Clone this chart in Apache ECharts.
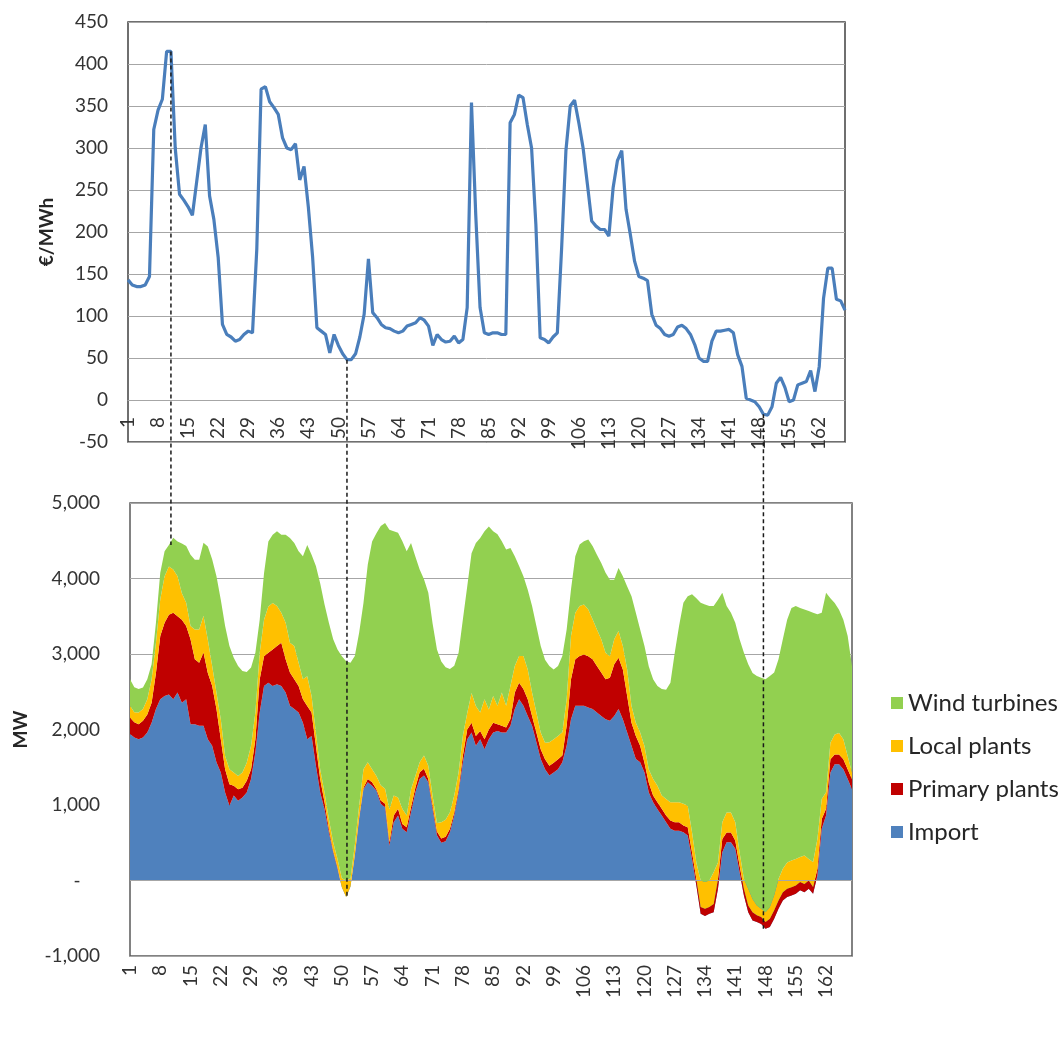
<!DOCTYPE html>
<html>
<head>
<meta charset="utf-8">
<script src="https://cdn.jsdelivr.net/npm/echarts@6/dist/echarts.min.js"></script>
<style>html,body{margin:0;padding:0;background:#fff;}#c{width:1062px;height:1041px;}</style>
</head>
<body>
<div id="c"></div>
<script>
// hours of the week (category axis)
const hours = Array.from({length: 168}, (_, i) => String(i + 1));

// price, €/MWh
const price = [143,137,135,135,137,147,322,345,358,415,
415,300,245,238,230,220,260,300,328,243,
215,170,90,78,75,70,72,78,82,80,
180,370,373,355,348,340,312,300,298,305,
262,278,230,170,86,82,78,56,78,65,
55,48,48,55,75,102,168,104,98,90,
86,85,82,80,82,88,90,92,98,95,
88,65,78,72,69,70,76,68,72,110,
354,220,110,80,78,80,80,78,78,330,
340,363,360,328,300,209,74,72,68,75,
80,181,297,350,357,330,300,257,213,207,
203,203,195,253,285,297,227,197,165,147,
145,142,102,89,85,78,76,78,87,89,
85,78,66,50,46,46,70,82,82,83,
84,80,54,40,2,0,-2,-8,-17,-18,
-8,20,27,15,-2,0,18,20,22,35,
10,40,121,157,157,120,118,107];

// MW by source
const importMW = [1940,1895,1870,1895,1960,2090,2270,2400,2445,2465,
2400,2490,2355,2400,2070,2070,2050,2050,1870,1785,
1565,1430,1165,990,1125,1055,1100,1165,1345,1695,
2225,2575,2620,2575,2600,2575,2490,2315,2270,2225,
2090,1870,1915,1520,1165,945,640,375,155,-90,
-220,-80,330,815,1210,1300,1255,1190,1015,970,
460,770,860,685,640,905,1165,1345,1390,1300,
945,600,500,520,640,860,1165,1565,1870,1960,
1785,1870,1740,1870,1960,1980,1960,1960,2050,2270,
2400,2315,2180,2050,1830,1610,1475,1390,1430,1475,
1565,1785,2135,2315,2315,2315,2290,2270,2225,2180,
2135,2115,2180,2270,2135,1960,1785,1610,1565,1430,
1165,1035,945,860,770,685,660,660,640,595,
285,-65,-440,-470,-440,-420,-110,375,505,505,
420,110,-200,-420,-530,-550,-575,-640,-615,-505,
-375,-265,-220,-200,-175,-130,-155,-110,-175,65,
685,860,1430,1540,1540,1475,1345,1210];

const primaryMW = [220,200,200,220,240,265,480,840,970,1055,
1145,1010,1100,970,1125,860,835,970,880,795,
705,440,310,285,130,155,130,155,130,175,
440,395,395,485,505,575,440,440,395,350,
310,440,310,265,175,90,45,20,20,0,
0,0,10,20,20,45,45,20,45,45,
45,90,90,65,65,65,65,90,90,45,
45,50,55,60,45,45,45,90,130,130,
130,110,130,130,130,90,90,65,90,220,
220,220,220,130,130,130,130,130,130,130,
90,265,530,615,660,680,680,660,615,575,
530,570,685,680,660,485,305,305,220,130,
130,90,90,90,90,110,110,110,90,110,
90,85,90,95,90,110,130,175,130,130,
110,90,90,90,110,90,90,90,110,110,
110,110,110,110,110,110,110,110,90,90,
130,90,175,130,130,130,130,130];

const localMW = [155,135,155,155,200,310,400,485,615,640,
575,530,350,310,175,395,440,485,440,265,
220,265,175,200,175,175,200,240,310,355,
350,485,615,615,530,395,485,395,440,310,
265,395,220,175,130,130,130,110,110,120,
220,110,130,155,245,220,175,175,200,200,
440,265,150,200,155,240,155,130,175,175,
130,110,215,225,220,220,220,265,220,395,
395,245,530,265,355,245,440,290,440,350,
355,440,395,310,265,220,220,310,310,310,
310,350,575,615,660,660,620,530,485,440,
350,285,330,355,310,350,220,175,175,220,
175,220,220,175,220,240,265,265,285,285,
265,220,350,355,350,420,220,220,265,265,
240,175,130,220,175,130,110,130,155,200,
285,310,350,355,350,330,375,285,330,395,
265,220,220,265,285,265,175,90];

const windMW = [350,330,310,285,265,200,265,350,330,285,
420,460,660,750,945,925,925,970,1235,1410,
1540,1585,1720,1630,1520,1455,1345,1200,1035,790,
440,615,860,905,990,1035,1165,1385,1365,1475,
1630,1740,1870,2205,2465,2490,2600,2690,2775,2940,
2905,2855,2503,2290,2200,2620,3015,3215,3435,3520,
3700,3500,3505,3545,3500,3260,2905,2555,2335,2290,
2280,2300,2130,2020,1895,1720,1585,1540,1675,1850,
2160,2310,2225,2425,2180,2270,2005,2070,1825,1455,
1190,1055,1055,1145,1145,1145,1100,1010,925,925,
1010,925,615,750,815,840,925,970,990,1010,
1060,1015,790,835,925,1100,1455,1455,1365,1325,
1365,1320,1320,1410,1445,1585,1980,2335,2665,2775,
3150,3500,3680,3675,3635,3525,3480,3040,2735,2645,
2645,2820,2995,2975,2995,3040,3060,3085,3060,2950,
2910,3040,3215,3345,3350,3300,3260,3285,3300,2975,
2465,2640,1915,1740,1630,1585,1590,1410];

const seriesNames = ['Import', 'Primary plants', 'Local plants', 'Wind turbines'];
const legendOrder = ['Wind turbines', 'Local plants', 'Primary plants', 'Import'];
const colors = ['#4F81BD', '#C00000', '#FFC000', '#92D050'];

// dashed guide lines: hour on the price chart and where they end in the MW chart
const guides = [{hour: 11, to: 'total'}, {hour: 52, to: 'low'}, {hour: 149, to: 'low'}];

const FONT = 'Lato, "Liberation Sans", sans-serif';
const chart = echarts.init(document.getElementById('c'), null, {renderer: 'canvas'});

const mwData = [importMW, primaryMW, localMW, windMW];
const areaSeries = mwData.map((d, i) => ({
  name: seriesNames[i], type: 'line', xAxisIndex: 1, yAxisIndex: 1,
  stack: 'mw', stackStrategy: 'all', data: d, symbol: 'none',
  lineStyle: {width: 0, opacity: 0}, itemStyle: {color: colors[i]},
  areaStyle: {color: colors[i], opacity: 1}, z: 2 + i
}));
areaSeries[3].markLine = {
  silent: true, symbol: 'none', label: {show: false},
  lineStyle: {color: '#a6a6a6', type: 'solid', width: 1},
  data: [{yAxis: 0}]
};

const labelStyle = {fontSize: 19, color: '#333', fontFamily: FONT};

chart.setOption({
  animation: false,
  textStyle: {fontFamily: FONT},
  grid: [
    {left: 128, top: 22, width: 717, height: 420, show: true, borderColor: '#404040', borderWidth: 1.5, backgroundColor: 'transparent'},
    {left: 130, top: 503, width: 722, height: 453, show: true, borderColor: '#595959', borderWidth: 1.5, backgroundColor: 'transparent'}
  ],
  legend: {
    data: legendOrder, orient: 'vertical', left: 886, top: 686,
    itemWidth: 12, itemHeight: 12, itemGap: 19, icon: 'rect',
    textStyle: {fontSize: 24, color: '#262626', fontFamily: FONT}
  },
  xAxis: [
    {type: 'category', gridIndex: 0, data: hours, boundaryGap: false,
     axisLine: {show: true, onZero: false, lineStyle: {color: '#a6a6a6', width: 1}},
     axisTick: {show: false},
     axisLabel: Object.assign({interval: 6, rotate: 90, margin: 17}, labelStyle),
     splitLine: {show: false}},
    {type: 'category', gridIndex: 1, data: hours, boundaryGap: false,
     axisLine: {show: false, onZero: false},
     axisTick: {show: false},
     axisLabel: Object.assign({interval: 6, rotate: 90, margin: 9}, labelStyle),
     splitLine: {show: false}}
  ],
  yAxis: [
    {type: 'value', gridIndex: 0, min: -50, max: 450, interval: 50,
     name: '€/MWh', nameLocation: 'middle', nameGap: 72, nameRotate: 90,
     nameTextStyle: {fontSize: 19, fontWeight: 'bold', color: '#262626', fontFamily: FONT},
     axisLine: {show: false}, axisTick: {show: false},
     axisLabel: Object.assign({margin: 20}, labelStyle),
     splitLine: {lineStyle: {color: '#a6a6a6', width: 1}}},
    {type: 'value', gridIndex: 1, min: -1000, max: 5000, interval: 1000,
     name: 'MW', nameLocation: 'middle', nameGap: 100, nameRotate: 90,
     nameTextStyle: {fontSize: 19, fontWeight: 'bold', color: '#262626', fontFamily: FONT},
     axisLine: {show: false}, axisTick: {show: false},
     axisLabel: Object.assign({margin: 30,
       formatter: v => v === 0 ? '-    ' : v.toLocaleString('en-US')}, labelStyle),
     splitLine: {lineStyle: {color: '#a6a6a6', width: 1}}}
  ],
  series: [
    {name: 'Price', type: 'line', xAxisIndex: 0, yAxisIndex: 0, data: price,
     symbol: 'none', lineStyle: {color: '#4A7EBB', width: 3.2}, itemStyle: {color: '#4A7EBB'}, z: 5}
  ].concat(areaSeries)
});

// move the price chart's category axis up to the zero line (as in the original)
const gridRect = chart.getModel().getComponent('grid', 0).coordinateSystem.getRect();
const yZero = chart.convertToPixel({xAxisIndex: 0, yAxisIndex: 0}, [0, 0])[1];
chart.setOption({xAxis: [{offset: yZero - (gridRect.y + gridRect.height)}, {}]});

// dashed guide lines, positioned through the chart's own scales
const graphics = guides.map(g => {
  const idx = g.hour - 1;
  const top = chart.convertToPixel({xAxisIndex: 0, yAxisIndex: 0}, [idx, price[idx]]);
  const bIdx = Math.round(chart.convertFromPixel({xAxisIndex: 1, yAxisIndex: 1}, [top[0], 0])[0]);
  let cum = 0, low = 0;
  mwData.forEach(d => { cum += d[bIdx]; low = Math.min(low, cum); });
  const endVal = g.to === 'total' ? cum : low;
  const end = chart.convertToPixel({xAxisIndex: 1, yAxisIndex: 1}, [bIdx, endVal]);
  return {type: 'line', z: 100, silent: true,
    shape: {x1: top[0], y1: top[1], x2: top[0], y2: end[1]},
    style: {stroke: '#1a1a1a', lineWidth: 1.5, lineDash: [4, 3]}};
});
chart.setOption({graphic: graphics});
</script>
</body>
</html>
